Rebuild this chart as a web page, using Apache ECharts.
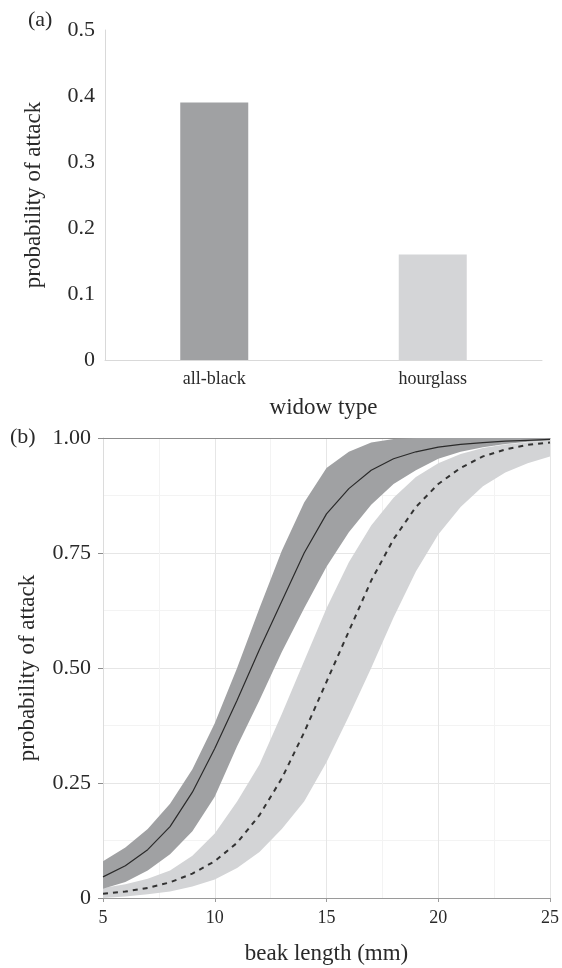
<!DOCTYPE html>
<html>
<head>
<meta charset="utf-8">
<script src="https://cdn.jsdelivr.net/npm/echarts@6/dist/echarts.min.js"></script>
<style>
html,body{margin:0;padding:0;background:#fff;}
#chart{width:562px;height:968px;}
</style>
</head>
<body>
<div id="chart"></div>
<script>
// ---- Panel (a) data ----
const widowTypes = ['all-black', 'hourglass'];
const attackProb = [0.39, 0.16];
const aTicks = [0, 0.1, 0.2, 0.3, 0.4, 0.5];

// ---- Panel (b) data ----
const beakLength = [5, 6, 7, 8, 9, 10, 11, 12, 13, 14, 15, 16, 17, 18, 19, 20, 21, 22, 23, 24, 25];
const allBlackMean  = [0.046, 0.07, 0.105, 0.155, 0.23, 0.325, 0.43, 0.54, 0.645, 0.75, 0.835, 0.89, 0.93, 0.955, 0.97, 0.98, 0.986, 0.99, 0.993, 0.995, 0.997];
const allBlackUpper = [0.08, 0.11, 0.15, 0.205, 0.28, 0.38, 0.50, 0.63, 0.755, 0.86, 0.935, 0.97, 0.99, 0.998, 1.0, 1.0, 1.0, 1.0, 1.0, 1.0, 1.0];
const allBlackLower = [0.02, 0.035, 0.06, 0.095, 0.145, 0.22, 0.33, 0.43, 0.535, 0.63, 0.72, 0.795, 0.855, 0.90, 0.93, 0.955, 0.97, 0.98, 0.987, 0.992, 0.995];
const hourglassMean  = [0.009, 0.014, 0.022, 0.034, 0.053, 0.08, 0.12, 0.18, 0.26, 0.36, 0.47, 0.58, 0.69, 0.78, 0.85, 0.90, 0.935, 0.96, 0.975, 0.985, 0.99];
const hourglassUpper = [0.022, 0.03, 0.042, 0.06, 0.092, 0.14, 0.21, 0.29, 0.40, 0.515, 0.63, 0.73, 0.81, 0.87, 0.915, 0.945, 0.965, 0.978, 0.986, 0.991, 0.995];
const hourglassLower = [0.0, 0.003, 0.008, 0.014, 0.025, 0.04, 0.065, 0.10, 0.15, 0.21, 0.295, 0.395, 0.50, 0.61, 0.71, 0.79, 0.85, 0.895, 0.925, 0.945, 0.96];
const bXTicks = [5, 10, 15, 20, 25];
const bYTicks = [0, 0.25, 0.5, 0.75, 1.0];

const FONT = '"Liberation Serif", "DejaVu Serif", serif';
const TXT = '#2a2a2a';

const pairs = (xs, ys) => xs.map((x, i) => [x, ys[i]]);

function bandSeries(xs, lo, up, color) {
  return {
    type: 'custom', coordinateSystem: 'cartesian2d', xAxisIndex: 1, yAxisIndex: 1,
    silent: true, clip: true,
    data: xs.map((x, i) => [x, lo[i], up[i]]),
    encode: {x: 0, y: [1, 2]},
    renderItem: function (params, api) {
      if (params.dataIndex !== 0) return null;
      const pts = [];
      for (let i = 0; i < xs.length; i++) pts.push(api.coord([xs[i], up[i]]));
      for (let i = xs.length - 1; i >= 0; i--) pts.push(api.coord([xs[i], lo[i]]));
      return {type: 'polygon', shape: {points: pts}, style: {fill: color, stroke: null}};
    }
  };
}

const chart = echarts.init(document.getElementById('chart'), null, {renderer: 'canvas'});

const option = {
  animation: false,
  backgroundColor: '#fff',
  textStyle: {fontFamily: FONT, color: TXT},
  graphic: [
    {type: 'text', left: 28, top: 9, style: {text: '(a)', font: '22px ' + FONT, fill: TXT}},
    {type: 'text', left: 10, top: 426, style: {text: '(b)', font: '22px ' + FONT, fill: TXT}}
  ],
  grid: [
    {left: 105, right: 20, top: 30, bottom: 608},
    {left: 103, right: 10, top: 438, bottom: 70}
  ],
  xAxis: [
    {
      gridIndex: 0, type: 'category', data: widowTypes,
      axisLine: {lineStyle: {color: '#d9d9d9', width: 1}},
      axisTick: {show: false},
      axisLabel: {fontFamily: FONT, fontSize: 18, color: TXT, margin: 10},
      name: 'widow type', nameLocation: 'middle', nameGap: 36,
      nameTextStyle: {fontFamily: FONT, fontSize: 23, color: TXT}
    },
    {
      gridIndex: 1, type: 'value', min: bXTicks[0], max: bXTicks[bXTicks.length - 1], interval: 5,
      axisLine: {show: true, onZero: false, lineStyle: {color: '#9a9a9a', width: 1}},
      axisTick: {show: true, length: 4, lineStyle: {color: '#9a9a9a'}},
      axisLabel: {fontFamily: FONT, fontSize: 18, color: TXT, margin: 11},
      splitLine: {show: true, lineStyle: {color: '#e6e6e6', width: 1}},
      minorTick: {show: false, splitNumber: 2},
      minorSplitLine: {show: true, lineStyle: {color: '#f3f3f3', width: 1}},
      name: 'beak length (mm)', nameLocation: 'middle', nameGap: 44,
      nameTextStyle: {fontFamily: FONT, fontSize: 23, color: TXT}
    },
    {
      gridIndex: 1, type: 'value', position: 'top', min: 5, max: 25,
      axisLine: {show: true, onZero: false, lineStyle: {color: '#8c8c8c', width: 1}},
      axisTick: {show: false}, axisLabel: {show: false}, splitLine: {show: false}
    }
  ],
  yAxis: [
    {
      gridIndex: 0, type: 'value', min: aTicks[0], max: aTicks[aTicks.length - 1], interval: 0.1,
      axisLine: {show: true, lineStyle: {color: '#d9d9d9', width: 1}},
      axisTick: {show: false}, splitLine: {show: false},
      axisLabel: {fontFamily: FONT, fontSize: 22, color: TXT, margin: 10,
        formatter: v => v === 0 ? '0' : v.toFixed(1)},
      name: 'probability of attack', nameLocation: 'middle', nameGap: 60,
      nameTextStyle: {fontFamily: FONT, fontSize: 23, color: TXT}
    },
    {
      gridIndex: 1, type: 'value', min: bYTicks[0], max: bYTicks[bYTicks.length - 1], interval: 0.25,
      axisLine: {show: true, lineStyle: {color: '#dcdcdc', width: 1}},
      axisTick: {show: true, length: 5, lineStyle: {color: '#8c8c8c'}},
      splitLine: {show: true, lineStyle: {color: '#e6e6e6', width: 1}},
      minorTick: {show: false, splitNumber: 2},
      minorSplitLine: {show: true, lineStyle: {color: '#f3f3f3', width: 1}},
      axisLabel: {fontFamily: FONT, fontSize: 22, color: TXT, margin: 12,
        formatter: v => v === 0 ? '0' : v.toFixed(2)},
      name: 'probability of attack', nameLocation: 'middle', nameGap: 64,
      nameTextStyle: {fontFamily: FONT, fontSize: 23, color: TXT}
    }
  ],
  series: [
    {
      type: 'bar', xAxisIndex: 0, yAxisIndex: 0, barWidth: 68,
      data: attackProb.map((v, i) => ({value: v, itemStyle: {color: i === 0 ? '#a0a1a3' : '#d4d5d7'}}))
    },
    bandSeries(beakLength, hourglassLower, hourglassUpper, '#d3d4d6'),
    bandSeries(beakLength, allBlackLower, allBlackUpper, '#a0a1a3'),
    {
      type: 'line', xAxisIndex: 1, yAxisIndex: 1, symbol: 'none', z: 3,
      lineStyle: {color: '#333', width: 2, type: [5, 5]},
      data: pairs(beakLength, hourglassMean)
    },
    {
      type: 'line', xAxisIndex: 1, yAxisIndex: 1, symbol: 'none', z: 3,
      lineStyle: {color: '#2a2a2a', width: 1.2},
      data: pairs(beakLength, allBlackMean)
    }
  ]
};
chart.setOption(option);
</script>
</body>
</html>
